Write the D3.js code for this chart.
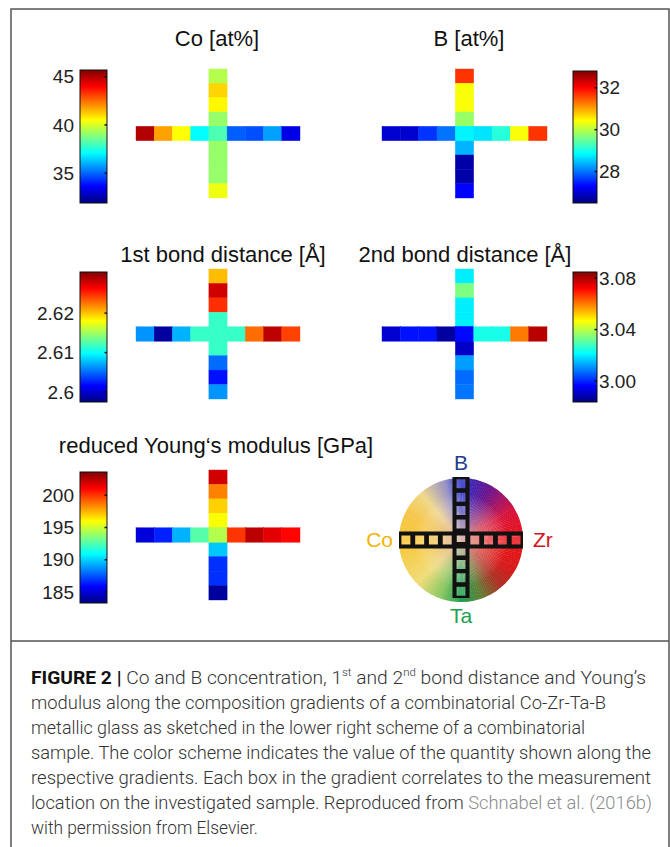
<!DOCTYPE html>
<html>
<head>
<meta charset="utf-8">
<script src="https://cdn.jsdelivr.net/npm/d3@7"></script>
<style>
body { margin: 0; background: #fff; }
svg { display: block; }
.title { font-family: "Liberation Sans", Arial, sans-serif; font-size: 22px; fill: #111; }
.cbar .tick text { font-family: "Liberation Sans", Arial, sans-serif; font-size: 19px; fill: #222; }
.caption { font-family: Roboto, "Liberation Sans", sans-serif; font-size: 18.5px; font-weight: 300; fill: #333; }
.corner { font-family: "Liberation Sans", Arial, sans-serif; font-size: 21px; }
</style>
</head>
<body>
<svg id="fig" width="670" height="847"></svg>
<script>
"use strict";

// values along the horizontal gradient (left -> right) and vertical (top -> bottom)
const coRow = [45.0, 41.8, 40.5, 37.1, 38.1, 34.9, 34.7, 35.8, 33.3];
const coCol = [39.5, 41.1, 40.6, 39.1, 38.1, 39.1, 39.1, 39.1, 40.3];
const coDomain = [31.9, 45.7];
const coTicks = ["35", "40", "45"];

const bRow = [27.0, 27.0, 27.6, 28.0, 28.8, 28.7, 29.1, 30.4, 31.7];
const bCol = [31.7, 30.4, 30.4, 29.8, 28.8, 28.4, 26.75, 26.75, 27.3];
const bDomain = [26.5, 32.8];
const bTicks = ["28", "30", "32"];

const bond1Row = [2.6064, 2.5985, 2.6074, 2.6116, 2.6116, 2.6116, 2.6228, 2.6284, 2.6242];
const bond1Col = [2.6202, 2.6278, 2.6248, 2.6116, 2.6116, 2.6116, 2.6051, 2.6021, 2.6064];
const bond1Domain = [2.5975, 2.6304];
const bond1Ticks = ["2.6", "2.61", "2.62"];

const bond2Row = [2.9918, 2.998, 2.998, 2.987, 2.997, 3.024, 3.024, 3.060, 3.079];
const bond2Col = [3.020, 3.034, 3.020, 3.020, 2.997, 2.9908, 3.012, 3.007, 3.008];
const bond2Domain = [2.9837, 3.0847];
const bond2Ticks = ["3.00", "3.04", "3.08"];

const youngRow = [185.1, 186.5, 189.4, 192.6, 194.5, 200.0, 202.4, 201.6, 201.0];
const youngCol = [202.0, 198.5, 196.9, 195.9, 194.5, 189.8, 186.8, 186.8, 183.9];
const youngDomain = [183.3, 203.6];
const youngTicks = ["185", "190", "195", "200"];

const captionLines = [
  [["b", "FIGURE 2 | "], ["", "Co and B concentration, 1"], ["sup", "st"], ["", " and 2"], ["sup", "nd"], ["", " bond distance and Young’s"]],
  [["", "modulus along the composition gradients of a combinatorial Co-Zr-Ta-B"]],
  [["", "metallic glass as sketched in the lower right scheme of a combinatorial"]],
  [["", "sample. The color scheme indicates the value of the quantity shown along the"]],
  [["", "respective gradients. Each box in the gradient correlates to the measurement"]],
  [["", "location on the investigated sample. Reproduced from "], ["link", "Schnabel et al. (2016b)"]],
  [["", "with permission from Elsevier."]]
];
// right end of each caption line in the reference
const captionEnds = [646, 606, 585, 651, 651, 652, 258];

const svg = d3.select("#fig");
const defs = svg.append("defs");

// MATLAB-like jet colormap
const jet = d3.scaleLinear()
  .domain([0, 0.125, 0.375, 0.625, 0.875, 1])
  .range(["#00007f", "#0000ff", "#00ffff", "#ffff00", "#ff0000", "#7f0000"])
  .clamp(true);

// frame
svg.append("path")
  .attr("d", "M11,847V9H669V847")
  .attr("fill", "none").attr("stroke", "#555").attr("stroke-width", 1.5);
svg.append("line")
  .attr("x1", 11).attr("x2", 669).attr("y1", 641).attr("y2", 641)
  .attr("stroke", "#555").attr("stroke-width", 1.5);

const panels = [
  { id: "co", title: "Co [at%]", row: coRow, col: coCol, domain: coDomain, ticks: coTicks,
    side: "left", cross: [136, 69, 300, 198], bar: [80, 70, 107, 203], tx: 217, ty: 46 },
  { id: "b", title: "B [at%]", row: bRow, col: bCol, domain: bDomain, ticks: bTicks,
    side: "right", cross: [382, 69, 547, 198], bar: [573, 71, 597, 203], tx: 469, ty: 46 },
  { id: "bond1", title: "1st bond distance [Å]", row: bond1Row, col: bond1Col, domain: bond1Domain, ticks: bond1Ticks,
    side: "left", cross: [136, 269, 300, 399], bar: [80, 272, 107, 402], tx: 223, ty: 262 },
  { id: "bond2", title: "2nd bond distance [Å]", row: bond2Row, col: bond2Col, domain: bond2Domain, ticks: bond2Ticks,
    side: "right", cross: [382, 269, 547, 399], bar: [573, 272, 597, 402], tx: 465, ty: 262 },
  { id: "young", title: "reduced Young‘s modulus [GPa]", row: youngRow, col: youngCol, domain: youngDomain, ticks: youngTicks,
    side: "left", cross: [136, 470, 300, 600], bar: [80, 472, 107, 603], tx: 216, ty: 453 }
];

panels.forEach(function(p) {
  let g = svg.append("g"),
    norm = d3.scaleLinear().domain(p.domain).range([0, 1]),
    xb = d3.scaleBand().domain(d3.range(p.row.length)).range([p.cross[0], p.cross[2]]),
    yb = d3.scaleBand().domain(d3.range(p.col.length)).range([p.cross[1], p.cross[3]]),
    mid = Math.floor(p.row.length / 2)
  ;

  g.append("text").attr("class", "title")
    .attr("x", p.tx).attr("y", p.ty).attr("text-anchor", "middle")
    .text(p.title);

  // vertical gradient first, horizontal one on top (shares the centre box)
  g.selectAll("rect.col").data(p.col).enter().append("rect")
    .attr("class", "col")
    .attr("x", xb(mid)).attr("y", function(d, i) { return yb(i); })
    .attr("width", xb.bandwidth()).attr("height", yb.bandwidth())
    .attr("fill", function(d) { return jet(norm(d)); })
    .attr("stroke", function(d) { return jet(norm(d)); }).attr("stroke-width", 0.4);

  g.selectAll("rect.row").data(p.row).enter().append("rect")
    .attr("class", "row")
    .attr("x", function(d, i) { return xb(i); }).attr("y", yb(mid))
    .attr("width", xb.bandwidth()).attr("height", yb.bandwidth())
    .attr("fill", function(d) { return jet(norm(d)); })
    .attr("stroke", function(d) { return jet(norm(d)); }).attr("stroke-width", 0.4);

  // colour bar
  let grad = defs.append("linearGradient").attr("id", "jet-" + p.id)
    .attr("x1", 0).attr("y1", 1).attr("x2", 0).attr("y2", 0);
  d3.range(0, 1.0001, 0.025).forEach(function(t) {
    grad.append("stop").attr("offset", t).attr("stop-color", jet(t));
  });

  let y = d3.scaleLinear().domain(p.domain).range([p.bar[3], p.bar[1]]),
    vals = p.ticks.map(Number);

  g.append("rect")
    .attr("x", p.bar[0]).attr("y", p.bar[1])
    .attr("width", p.bar[2] - p.bar[0]).attr("height", p.bar[3] - p.bar[1])
    .attr("fill", "url(#jet-" + p.id + ")")
    .attr("stroke", "#111").attr("stroke-width", 1);

  g.selectAll("line.tk").data(vals).enter().append("line")
    .attr("x1", p.bar[2] - 2.5).attr("x2", p.bar[2])
    .attr("y1", function(d) { return y(d); }).attr("y2", function(d) { return y(d); })
    .attr("stroke", "#111").attr("stroke-width", 1.5);

  let axis = (p.side === "left" ? d3.axisLeft(y).tickPadding(6) : d3.axisRight(y).tickPadding(2))
    .tickValues(vals).tickSize(0)
    .tickFormat(function(d, i) { return p.ticks[i]; });

  let ax = g.append("g").attr("class", "cbar")
    .attr("transform", "translate(" + (p.side === "left" ? p.bar[0] : p.bar[2]) + ",0)")
    .call(axis);
  ax.select(".domain").remove();
  ax.selectAll("text").attr("font-family", null).attr("font-size", null);
});

// composition scheme (lower right)
const wheelStops = [0, 30, 60, 90, 120, 140, 160, 180, 200, 225, 270, 300, 320, 345, 360];
const wheelColors = ["#2832c8", "#6e148c", "#d7143c", "#eb1419", "#d71919", "#aa3223", "#647d37",
  "#1ea050", "#8cc864", "#f0dc78", "#f7c532", "#f5c850", "#f0d88c", "#9690c8", "#2832c8"];
const wheel = d3.scaleLinear().domain(wheelStops).range(wheelColors);

const cx = 461, cy = 540, R = 62;
const sg = svg.append("g").attr("transform", "translate(" + cx + "," + cy + ")");
const arc = d3.arc().innerRadius(0).outerRadius(R);
sg.selectAll("path.w").data(d3.range(0, 360, 2)).enter().append("path")
  .attr("d", function(a) { return arc({ startAngle: a * Math.PI / 180, endAngle: (a + 2.4) * Math.PI / 180 }); })
  .attr("fill", function(a) { return wheel(a + 1); });

const rg = defs.append("radialGradient").attr("id", "wheelCentre");
rg.append("stop").attr("offset", 0).attr("stop-color", "#d2a096").attr("stop-opacity", 0.85);
rg.append("stop").attr("offset", 0.35).attr("stop-color", "#e1b9a5").attr("stop-opacity", 0.4);
rg.append("stop").attr("offset", 0.75).attr("stop-color", "#ffffff").attr("stop-opacity", 0);
sg.append("circle").attr("r", R).attr("fill", "url(#wheelCentre)");

// measurement boxes of the sample: black bands with square windows (evenodd holes)
const n = 9, bw = 17, win = 9;
const sx = d3.scaleBand().domain(d3.range(n)).range([-62, 62]);
const sy = d3.scaleBand().domain(d3.range(n)).range([-63, 58]);
function band(x0, y0, w, h, windows) {
  let p = d3.path();
  p.rect(x0, y0, w, h);
  windows.forEach(function(c) { p.rect(c[0] - win / 2, c[1] - win / 2, win, win); });
  return p.toString();
}
const hWin = d3.range(n).map(function(i) { return [sx(i) + sx.bandwidth() / 2, 0]; });
const vWin = d3.range(n).map(function(i) { return [0, sy(i) + sy.bandwidth() / 2]; });
sg.selectAll("rect.win").data(hWin.concat(vWin)).enter().append("rect")
  .attr("x", function(c) { return c[0] - win / 2; }).attr("y", function(c) { return c[1] - win / 2; })
  .attr("width", win).attr("height", win)
  .attr("fill", "#fff").attr("fill-opacity", 0.15);
sg.append("path").attr("d", band(-bw / 2, -63, bw, 121, vWin))
  .attr("fill", "#111").attr("fill-rule", "evenodd");
sg.append("path").attr("d", band(-62, -bw / 2, 124, bw, hWin))
  .attr("fill", "#111").attr("fill-rule", "evenodd");

const corners = [
  { t: "B", x: 0, y: -70, a: "middle", c: "#243c8c" },
  { t: "Co", x: -68, y: 7, a: "end", c: "#f5b400" },
  { t: "Zr", x: 72, y: 7, a: "start", c: "#d2141e" },
  { t: "Ta", x: 0, y: 83, a: "middle", c: "#1ea050" }
];
sg.selectAll("text.corner").data(corners).enter().append("text")
  .attr("class", "corner")
  .attr("x", function(d) { return d.x; }).attr("y", function(d) { return d.y; })
  .attr("text-anchor", function(d) { return d.a; })
  .attr("fill", function(d) { return d.c; })
  .text(function(d) { return d.t; });

// caption
const cap = svg.append("g").attr("class", "caption");
captionLines.forEach(function(line, i) {
  let t = cap.append("text").attr("x", 31).attr("y", 684 + i * 25)
    .attr("textLength", captionEnds[i] - 31).attr("lengthAdjust", "spacingAndGlyphs");
  line.forEach(function(seg, j) {
    let s = t.append("tspan").text(seg[1]);
    if (seg[0] === "b") s.attr("font-weight", "bold").attr("fill", "#111");
    if (seg[0] === "sup") s.attr("font-size", "11px").attr("dy", -8);
    if (seg[0] === "link") s.attr("fill", "#8c8c8c");
    if (seg[0] === "" && j > 0 && line[j - 1][0] === "sup") s.attr("dy", 8);
  });
});
</script>
</body>
</html>
